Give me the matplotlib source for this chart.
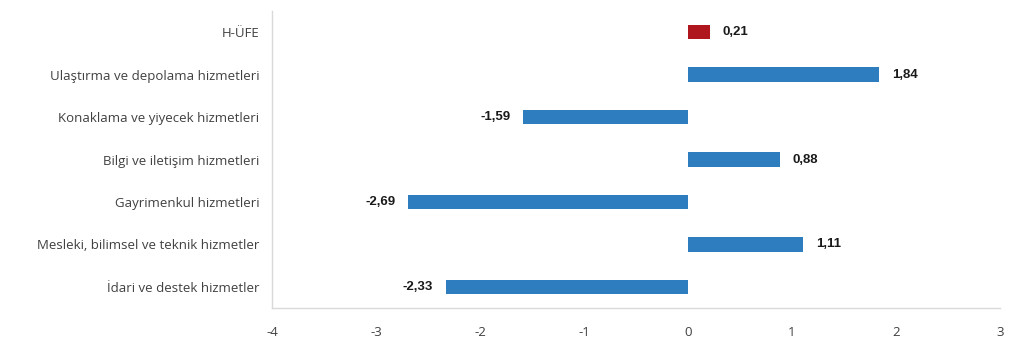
import matplotlib
matplotlib.use("Agg")
import matplotlib.pyplot as plt

categories = ["H-ÜFE", "Ulaştırma ve depolama hizmetleri", "Konaklama ve yiyecek hizmetleri",
              "Bilgi ve iletişim hizmetleri", "Gayrimenkul hizmetleri",
              "Mesleki, bilimsel ve teknik hizmetler", "İdari ve destek hizmetler"]
values = [0.21, 1.84, -1.59, 0.88, -2.69, 1.11, -2.33]
labels = ["0,21", "1,84", "-1,59", "0,88", "-2,69", "1,11", "-2,33"]
xticks = [-4, -3, -2, -1, 0, 1, 2, 3]

colors = ["#B0161E"] + ["#2E7EBF"] * (len(values) - 1)

fig = plt.figure(figsize=(10.24, 3.53), dpi=100)
ax = fig.add_axes([0.2656, 0.1268, 0.7110, 0.8427])
ypos = list(range(len(categories)))
ax.barh(ypos, values, height=0.33, color=colors)
ax.set_ylim(len(categories) - 0.5, -0.5)
ax.set_xlim(-4, 3)
ax.set_yticks(ypos)
ax.set_yticklabels(categories, fontsize=9.5, color="#404040", family="Open Sans")
ax.set_xticks(xticks)
ax.set_xticklabels([str(t) for t in xticks], fontsize=9.5, color="#404040", family="Open Sans")
ax.tick_params(axis="both", length=0)
ax.tick_params(axis="x", pad=13)
ax.tick_params(axis="y", pad=9)
for s in ["top", "right"]:
    ax.spines[s].set_visible(False)
for s in ["left", "bottom"]:
    ax.spines[s].set_color("#D9D9D9")
    ax.spines[s].set_linewidth(1)

for y, v, lab in zip(ypos, values, labels):
    if v >= 0:
        ax.text(v + 0.12, y, lab, ha="left", va="center", fontsize=9.5, fontweight="bold",
                family="Liberation Sans", color="#1a1a1a")
    else:
        ax.text(v - 0.12, y, lab, ha="right", va="center", fontsize=9.5, fontweight="bold",
                family="Liberation Sans", color="#1a1a1a")

fig.savefig("out.png", dpi=100)
